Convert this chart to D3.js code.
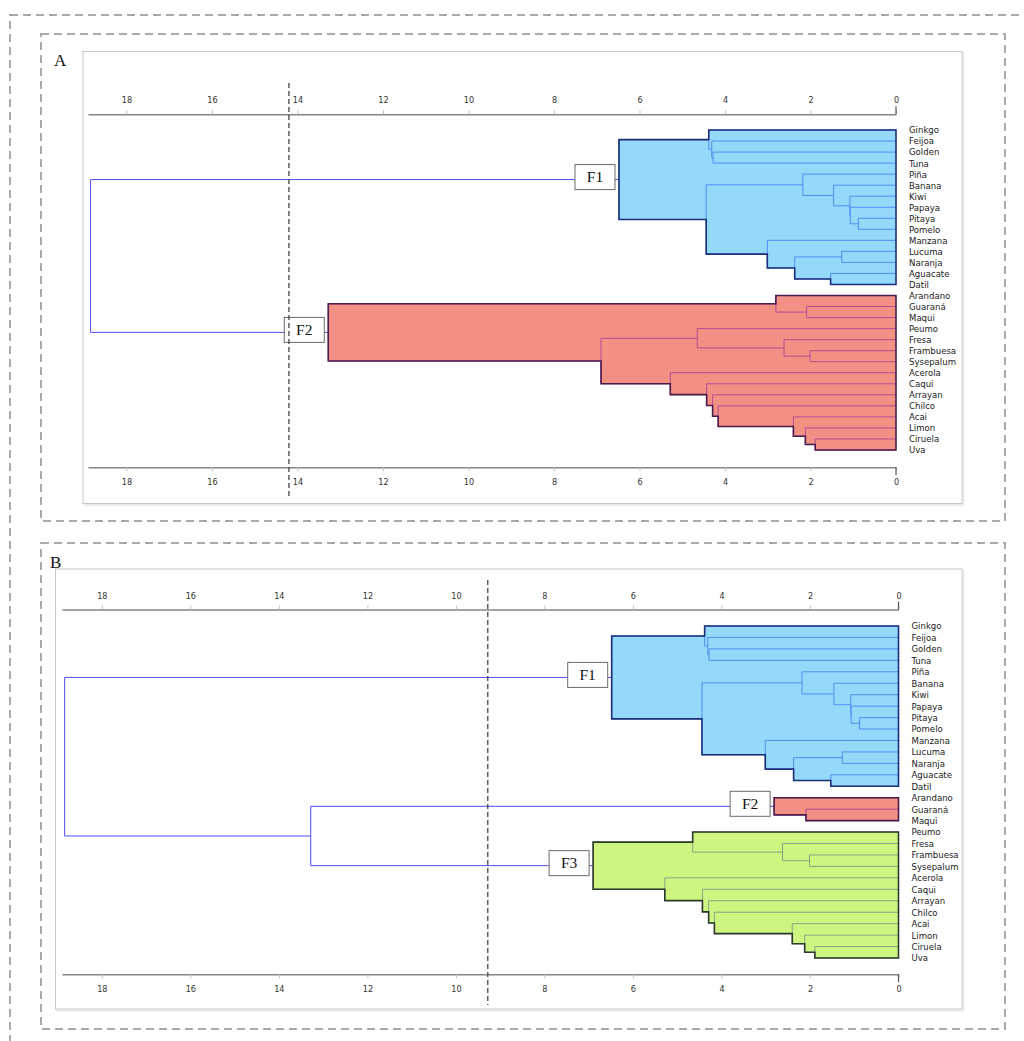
<!DOCTYPE html>
<html>
<head>
<meta charset="utf-8">
<script src="https://cdn.jsdelivr.net/npm/d3@7"></script>
<style>
  body { margin: 0; background: #fff; }
  svg { display: block; }
</style>
</head>
<body>
<svg id="fig" width="1024" height="1041"></svg>
<script>
// Leaves, in the order they appear from top to bottom
const leaves = ["Ginkgo","Feijoa","Golden","Tuna","Piña","Banana","Kiwi","Papaya","Pitaya","Pomelo",
  "Manzana","Lucuma","Naranja","Aguacate","Datil","Arandano","Guaraná","Maqui","Peumo","Fresa",
  "Frambuesa","Sysepalum","Acerola","Caqui","Arrayan","Chilco","Acai","Limon","Ciruela","Uva"];

// Agglomeration steps: [new node, upper child, lower child, dissimilarity]
const merges = [
  ["m01", "Pitaya",   "Pomelo",    0.88],
  ["m02", "Papaya",   "m01",       1.07],
  ["m03", "Kiwi",     "m02",       1.08],
  ["m04", "Lucuma",   "Naranja",   1.27],
  ["m05", "Banana",   "m03",       1.46],
  ["m06", "Aguacate", "Datil",     1.53],
  ["m07", "Ciruela",  "Uva",       1.89],
  ["m08", "Frambuesa","Sysepalum", 2.01],
  ["m09", "Guaraná",  "Maqui",     2.09],
  ["m10", "Limon",    "m07",       2.12],
  ["m11", "Piña",     "m05",       2.18],
  ["m12", "m04",      "m06",       2.37],
  ["m13", "Acai",     "m10",       2.40],
  ["m14", "Fresa",    "m08",       2.62],
  ["m15", "Arandano", "m09",       2.81],
  ["m16", "Manzana",  "m12",       3.01],
  ["m17", "Chilco",   "m13",       4.16],
  ["m18", "Golden",   "Tuna",      4.28],
  ["m19", "Arrayan",  "m17",       4.29],
  ["m20", "Feijoa",   "m18",       4.31],
  ["m21", "Ginkgo",   "m20",       4.38],
  ["m22", "Caqui",    "m19",       4.43],
  ["m23", "m11",      "m16",       4.44],
  ["m24", "Peumo",    "m14",       4.65],
  ["m25", "Acerola",  "m22",       5.28],
  ["m26", "m21",      "m23",       6.48],
  ["m27", "m24",      "m25",       6.90],
  ["m28", "m15",      "m27",      13.28],
  ["m29", "m26",      "m28",      18.84]
];

// Axis tick values and the truncation level of each panel
const tickValues = [18, 16, 14, 12, 10, 8, 6, 4, 2, 0];
const panelLetters = ["A", "B"];
const cutLevels = [14.2, 9.28];
const clusterNames = [["F1", "F2"], ["F1", "F2", "F3"]];
const clusterPalettes = [["blue", "red"], ["blue", "red", "green"]];

// Cluster styles
const styles = {
  blue:  { fill: "#94d8fa", edge: "#1c2f78", inner: "#4f8ef5" },
  red:   { fill: "#f29183", edge: "#4c1c4e", inner: "#b24e93" },
  green: { fill: "#cdf580", edge: "#2f3a2f", inner: "#86a386" }
};
const linkColor = "#4d4df2";
const labelFont = "'DejaVu Sans Condensed', 'DejaVu Sans', sans-serif";
const serifFont = "'Liberation Serif', 'DejaVu Serif', serif";

// ---- build the tree ----
const nodes = new Map();
leaves.forEach((name, i) => nodes.set(name, { id: name, h: 0, leaf: true, index: i }));
merges.forEach(([id, a, b, h]) => nodes.set(id, { id, h, leaf: false, c1: nodes.get(a), c2: nodes.get(b) }));
const root = nodes.get(merges[merges.length - 1][0]);

function internalNodes(n, out = []) {
  if (n.leaf) return out;
  out.push(n);
  internalNodes(n.c1, out);
  internalNodes(n.c2, out);
  return out;
}

const svg = d3.select("#fig");

// outer dashed frame (runs past the page edges)
svg.append("rect")
  .attr("x", 10).attr("y", 15).attr("width", 1040).attr("height", 1060)
  .attr("fill", "none").attr("stroke", "#aaaaaa").attr("stroke-width", 2)
  .attr("stroke-dasharray", "8,5");

const panels = [
  { xr: [88, 896],   yr: [130, 450], topAxis: 114.3, bottomAxis: 467.3, cut: [83, 497],
    frame: [83, 51.5, 879, 452], box: [41, 34, 964, 487], letter: [54, 66] },
  { xr: [62, 898.5], yr: [626, 958], topAxis: 609.5, bottomAxis: 974.3, cut: [580, 1005],
    frame: [55.5, 569, 906.5, 440], box: [41, 543, 964, 486], letter: [50, 568] }
];

panels.forEach((p, pi) => {
  const g = svg.append("g");
  const x = d3.scaleLinear().domain([18.9, 0]).range(p.xr);
  const y = d3.scalePoint().domain(leaves).range(p.yr);
  const x0 = x(0);

  // node positions: leaves on their rows, merges at the middle of their children
  const pos = new Map();
  (function place(n) {
    if (n.leaf) { pos.set(n.id, y(n.id)); return pos.get(n.id); }
    const v = (place(n.c1) + place(n.c2)) / 2;
    pos.set(n.id, v);
    return v;
  })(root);
  const ny = n => pos.get(n.id);
  const nx = n => x(n.h);

  // panel frames
  g.append("rect")
    .attr("x", p.box[0]).attr("y", p.box[1]).attr("width", p.box[2]).attr("height", p.box[3])
    .attr("fill", "none").attr("stroke", "#aaaaaa").attr("stroke-width", 2)
    .attr("stroke-dasharray", "8,5");
  g.append("rect")
    .attr("x", p.frame[0] + 1.5).attr("y", p.frame[1] + 1.5).attr("width", p.frame[2]).attr("height", p.frame[3])
    .attr("fill", "none").attr("stroke", "#ececec").attr("stroke-width", 2);
  g.append("rect")
    .attr("x", p.frame[0]).attr("y", p.frame[1]).attr("width", p.frame[2]).attr("height", p.frame[3])
    .attr("fill", "#fff").attr("stroke", "#c8c8c8").attr("stroke-width", 1);

  g.append("text")
    .attr("x", p.letter[0]).attr("y", p.letter[1])
    .attr("font-family", serifFont).attr("font-size", 17).attr("fill", "#111")
    .text(panelLetters[pi]);

  // axes
  function styleAxis(ax, dir) {
    ax.select(".domain").attr("stroke", "#858585").attr("stroke-width", 1.5);
    ax.selectAll(".tick line").attr("stroke", "#c4c4c4");
    ax.selectAll(".tick text").attr("fill", "#333").attr("font-family", labelFont).attr("font-size", 9);
    ax.append("line").attr("x1", x0).attr("x2", x0).attr("y1", 0).attr("y2", dir * 8)
      .attr("stroke", "#555").attr("stroke-width", 1.2);
  }
  const topAx = g.append("g").attr("transform", `translate(0,${p.topAxis})`)
    .call(d3.axisTop(x).tickValues(tickValues).tickSize(4).tickSizeOuter(0).tickPadding(7).tickFormat(d3.format("d")));
  styleAxis(topAx, -1);
  const botAx = g.append("g").attr("transform", `translate(0,${p.bottomAxis})`)
    .call(d3.axisBottom(x).tickValues(tickValues).tickSize(4).tickSizeOuter(0).tickPadding(7.5).tickFormat(d3.format("d")));
  styleAxis(botAx, 1);

  // clusters: highest nodes below the truncation level
  const cut = cutLevels[pi];
  const clusters = [];
  const upper = [];
  (function split(n) {
    if (n.h < cut) { clusters.push(n); return; }
    upper.push(n);
    split(n.c1); split(n.c2);
  })(root);

  // links above the truncation level
  upper.forEach(n => {
    const path = `M${nx(n)},${ny(n.c1)}V${ny(n.c2)}` +
      [n.c1, n.c2].map(c => `M${c.leaf ? x0 : nx(c)},${ny(c)}H${nx(n)}`).join("");
    g.append("path").attr("d", path).attr("fill", "none")
      .attr("stroke", linkColor).attr("stroke-width", 1);
  });

  // cluster blocks
  clusters.forEach((c, ci) => {
    const st = styles[clusterPalettes[pi][ci]];
    const chain = side => {
      const pts = [[nx(c), ny(c[side])]];
      let n = c[side];
      while (!n.leaf) {
        pts.push([nx(n), ny(n)]);
        pts.push([nx(n), ny(n[side])]);
        n = n[side];
      }
      pts.push([x0, ny(n)]);
      return pts;
    };
    const outline = chain("c1").concat(chain("c2").reverse());
    const d = d3.line()(outline) + "Z";

    g.append("path").attr("d", d).attr("fill", st.fill).attr("stroke", "none");

    const inner = internalNodes(c).map(n =>
      `M${nx(n)},${ny(n.c1)}V${ny(n.c2)}` +
      [n.c1, n.c2].map(k => `M${k.leaf ? x0 : nx(k)},${ny(k)}H${nx(n)}`).join("")
    ).join("");
    g.append("path").attr("d", inner).attr("fill", "none")
      .attr("stroke", st.inner).attr("stroke-width", 1);

    g.append("path").attr("d", d).attr("fill", "none")
      .attr("stroke", st.edge).attr("stroke-width", 1.6).attr("stroke-linejoin", "miter");

    // cluster name tag
    const bx = nx(c) - 44, by = ny(c) - 15;
    g.append("rect").attr("x", bx).attr("y", by).attr("width", 40).attr("height", 25)
      .attr("fill", "#fff").attr("stroke", "#6a6a6a").attr("stroke-width", 1);
    g.append("text").attr("x", bx + 20).attr("y", by + 17.5)
      .attr("text-anchor", "middle").attr("font-family", serifFont).attr("font-size", 15.5)
      .attr("fill", "#111").text(clusterNames[pi][ci]);
  });

  // truncation line
  g.append("line")
    .attr("x1", x(cut)).attr("x2", x(cut)).attr("y1", p.cut[0]).attr("y2", p.cut[1])
    .attr("stroke", "#444").attr("stroke-width", 1.3).attr("stroke-dasharray", "5,3");

  // leaf labels
  g.selectAll(null).data(leaves).join("text")
    .attr("x", x0 + 13).attr("y", d => y(d) + 3.4)
    .attr("font-family", labelFont).attr("font-size", 9.5).attr("fill", "#222")
    .text(d => d);
});
</script>
</body>
</html>
